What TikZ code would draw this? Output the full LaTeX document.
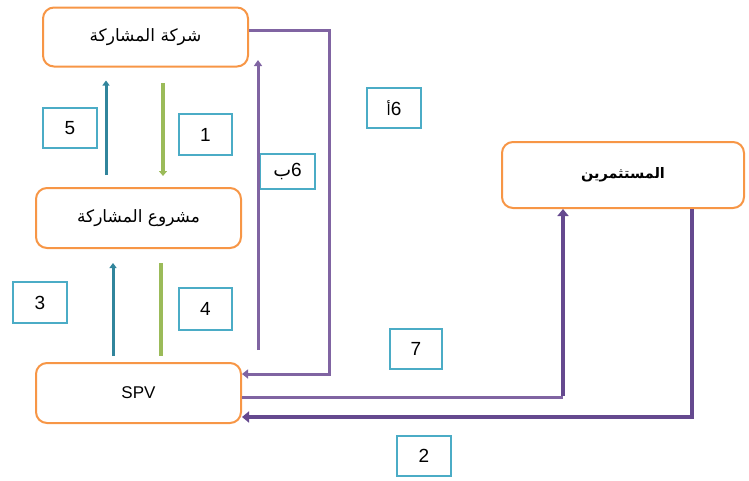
\documentclass[tikz,border=0pt]{standalone}
\usepackage{fontspec}
\setmainfont{Liberation Sans}
\newfontfamily\arabicfont[Script=Arabic]{DejaVu Sans}
\TeXXeTstate=1
\usetikzlibrary{arrows.meta}
\definecolor{boxorange}{HTML}{F79646}
\definecolor{lblcyan}{HTML}{4BACC6}
\definecolor{arrteal}{HTML}{31859C}
\definecolor{arrgreen}{HTML}{9BBB59}
\definecolor{purplelight}{HTML}{8064A2}
\definecolor{purpledark}{HTML}{65498F}
\tikzset{
  entity/.style={draw=boxorange, line width=2pt, rounded corners=11pt, fill=white, inner sep=0pt},
  numlabel/.style={draw=lblcyan, line width=2pt, fill=white, inner sep=0pt, font=\fontsize{19}{19}\selectfont},
  tealarrow/.style={draw=arrteal, line width=3pt, -{Triangle[length=5pt,width=7pt]}},
  greenarrow/.style={draw=arrgreen, line width=3.5pt, -{Triangle[length=5pt,width=8pt]}},
  greenline/.style={draw=arrgreen, line width=3.5pt},
  purplethin/.style={draw=purplelight, line width=3pt},
  purplethick/.style={draw=purpledark, line width=4.5pt},
}
\begin{document}
\begin{tikzpicture}[x=1pt,y=-1pt]
\useasboundingbox (0,0) rectangle (749,480);
% entity boxes
\node[entity, minimum width=205pt, minimum height=59pt] (top) at (145.5,37) {\arabicfont\fontsize{17}{17}\selectfont\beginR شركة المشاركة\endR};
\node[entity, minimum width=205pt, minimum height=60pt] (mid) at (138.5,218) {\arabicfont\fontsize{17}{17}\selectfont\beginR مشروع المشاركة\endR};
\node[entity, minimum width=205pt, minimum height=60pt] (spv) at (138.5,393) {\fontsize{17}{17}\selectfont SPV};
\node[entity, minimum width=242pt, minimum height=66pt] (inv) at (623,175) {\arabicfont\bfseries\fontsize{14.5}{14.5}\selectfont\beginR المستثمرين\endR};
% number labels
\node[numlabel, minimum width=54pt, minimum height=40pt] (l5) at (70,128) {5};
\node[numlabel, minimum width=53pt, minimum height=41pt] (l1) at (205.5,134.5) {1};
\node[numlabel, minimum width=55pt, minimum height=35pt] (l6b) at (287.5,171.5) {\beginR 6{\arabicfont ب}\endR};
\node[numlabel, minimum width=54pt, minimum height=40pt] (l6a) at (394,108) {\beginR 6{\arabicfont\fontsize{15}{15}\selectfont أ}\endR};
\node[numlabel, minimum width=54pt, minimum height=41pt] (l3) at (40,302.5) {3};
\node[numlabel, minimum width=53pt, minimum height=42pt] (l4) at (205.5,309) {4};
\node[numlabel, minimum width=52pt, minimum height=40pt] (l7) at (416,349) {7};
\node[numlabel, minimum width=54pt, minimum height=40pt] (l2) at (424,456) {2};
% helper coordinates
\coordinate (x5) at (106,0);
\coordinate (x1) at (163,0);
\coordinate (x3) at (113,0);
\coordinate (x4) at (161,0);
\coordinate (b6s) at (258,350);
\coordinate (b6e) at (258,60);
\coordinate (a6x) at (329,0);
\coordinate (a6top) at (0,30);
\coordinate (a6spv) at (0,374);
\coordinate (s7y) at (0,397);
\coordinate (x7) at (563,0);
\coordinate (x2) at (692,0);
\coordinate (s2y) at (0,417);
% arrows between top and mid
\draw[tealarrow, shorten <=12pt, shorten >=13pt] (mid.north -| x5) -- (top.south -| x5);
\draw[greenarrow, shorten <=15.5pt, shorten >=11pt] (top.south -| x1) -- (mid.north -| x1);
% arrows between mid and spv
\draw[tealarrow, shorten <=6pt, shorten >=14pt] (spv.north -| x3) -- (mid.south -| x3);
\draw[greenline, shorten <=14pt, shorten >=6pt] (mid.south -| x4) -- (spv.north -| x4);
% 6b
\draw[purplethin, -{Triangle[length=6pt,width=8pt]}] (b6s) -- (b6e);
% 6a
\draw[purplethin, -{Triangle[length=6pt,width=9pt]}] (top.east |- a6top) -- (a6x |- a6top) -- (a6x |- a6spv) -- (spv.east |- a6spv);
% 7
\draw[purplethin] (spv.east |- s7y) -- (x7 |- s7y);
\draw[purplethick, -{Triangle[length=7pt,width=11pt]}] ([yshift=1.25pt]x7 |- s7y) -- (inv.south -| x7);
% 2
\draw[purplethick, -{Triangle[length=7pt,width=11pt]}] (inv.south -| x2) -- (x2 |- s2y) -- (spv.east |- s2y);
\end{tikzpicture}
\end{document}
